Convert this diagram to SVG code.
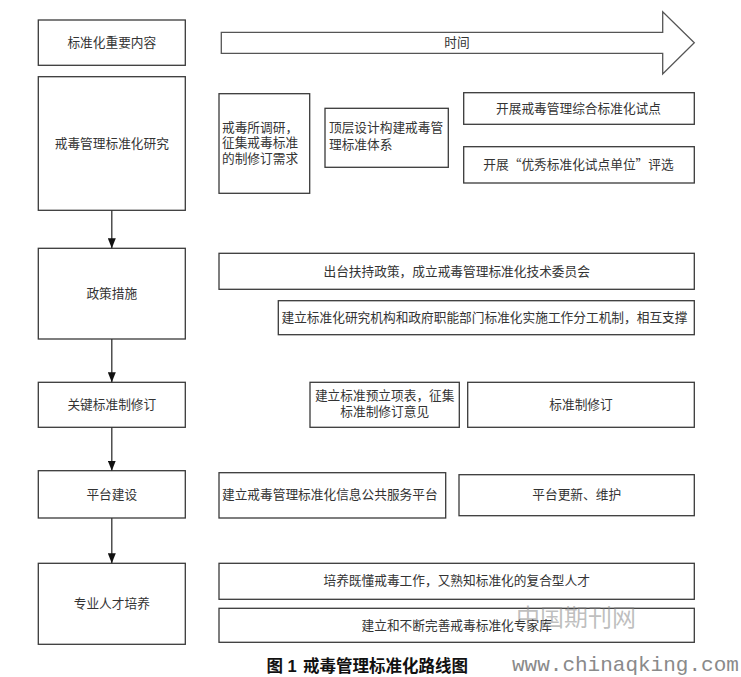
<svg xmlns="http://www.w3.org/2000/svg" width="741" height="677" viewBox="0 0 741 677">
<defs>
<style>
.box{fill:#fff;stroke:#3a3a3a;stroke-width:1.3}
.t{font-family:"Liberation Serif","Noto Sans CJK SC",serif;font-size:12.7px;fill:#333}
.c{text-anchor:middle}
.conn{stroke:#333;stroke-width:1.3;fill:none}
.cap{font-family:"Liberation Sans","Noto Sans CJK SC",sans-serif;font-size:16.5px;font-weight:bold;fill:#111}
</style>
<marker id="ah" markerWidth="10" markerHeight="8" refX="10" refY="4" orient="auto" markerUnits="userSpaceOnUse">
<path d="M0,0 L10,4 L0,8 Z" fill="#111"/>
</marker>
</defs>
<rect width="741" height="677" fill="#fff"/>

<g id="time-arrow">
<path d="M221.3,32.3 H662.7 V11.7 L694.3,42.7 L662.7,74 V53.3 H221.3 Z" fill="#fff" stroke="#555" stroke-width="1.3"/>
<text class="t c" x="457" y="47">时间</text>
</g>

<g id="n-header">
<rect class="box" x="38.3" y="20" width="147" height="45.3"/>
<text class="t c" x="111.8" y="47">标准化重要内容</text>
</g>
<g id="n-research">
<rect class="box" x="38.3" y="76.7" width="147" height="133.6"/>
<text class="t c" x="111.8" y="147.5">戒毒管理标准化研究</text>
</g>
<g id="n-policy">
<rect class="box" x="38.3" y="248.3" width="147" height="90.7"/>
<text class="t c" x="111.8" y="298">政策措施</text>
</g>
<g id="n-key">
<rect class="box" x="38.3" y="382.3" width="147" height="45"/>
<text class="t c" x="111.8" y="409">关键标准制修订</text>
</g>
<g id="n-platform">
<rect class="box" x="38.3" y="470.7" width="147" height="47.3"/>
<text class="t c" x="111.8" y="498.5">平台建设</text>
</g>
<g id="n-talent">
<rect class="box" x="38.3" y="563.3" width="147" height="81"/>
<text class="t c" x="111.8" y="608">专业人才培养</text>
</g>

<g id="connectors">
<line class="conn" x1="111.8" y1="210.3" x2="111.8" y2="248.3" marker-end="url(#ah)"/>
<line class="conn" x1="111.8" y1="339" x2="111.8" y2="382.3" marker-end="url(#ah)"/>
<line class="conn" x1="111.8" y1="427.3" x2="111.8" y2="470.7" marker-end="url(#ah)"/>
<line class="conn" x1="111.8" y1="518" x2="111.8" y2="563.3" marker-end="url(#ah)"/>
</g>

<g id="r1">
<rect class="box" x="219" y="93.7" width="90.7" height="99.6"/>
<text class="t" x="222" y="131.5">戒毒所调研，</text>
<text class="t" x="222" y="147">征集戒毒标准</text>
<text class="t" x="222" y="162.5">的制修订需求</text>
</g>
<g id="r2">
<rect class="box" x="325" y="108.3" width="123.3" height="59"/>
<text class="t" x="329" y="132">顶层设计构建戒毒管</text>
<text class="t" x="329" y="148.5">理标准体系</text>
</g>
<g id="r3">
<rect class="box" x="463.7" y="92.7" width="230.6" height="31.6"/>
<text class="t c" x="578.5" y="112.5">开展戒毒管理综合标准化试点</text>
</g>
<g id="r4">
<rect class="box" x="463.7" y="146.7" width="230.6" height="36.3"/>
<text class="t c" x="578.5" y="169" style="font-family:'Noto Sans CJK SC',sans-serif">开展“优秀标准化试点单位”评选</text>
</g>

<g id="p1">
<rect class="box" x="219" y="253.3" width="475.3" height="36"/>
<text class="t c" x="456.7" y="275.5">出台扶持政策，成立戒毒管理标准化技术委员会</text>
</g>
<g id="p2">
<rect class="box" x="278.3" y="300.7" width="416" height="34"/>
<text class="t" x="281.5" y="322">建立标准化研究机构和政府职能部门标准化实施工作分工机制，相互支撑</text>
</g>

<g id="k1">
<rect class="box" x="310" y="382.3" width="149.3" height="45"/>
<text class="t c" x="384.7" y="399.5">建立标准预立项表，征集</text>
<text class="t c" x="384.7" y="415.5">标准制修订意见</text>
</g>
<g id="k2">
<rect class="box" x="467.7" y="382.3" width="226.6" height="45"/>
<text class="t c" x="581" y="408.5">标准制修订</text>
</g>

<g id="pl1">
<rect class="box" x="219" y="472.7" width="226.7" height="45.3"/>
<text class="t" x="222" y="499">建立戒毒管理标准化信息公共服务平台</text>
</g>
<g id="pl2">
<rect class="box" x="459" y="474.7" width="235.3" height="41"/>
<text class="t c" x="576.7" y="499">平台更新、维护</text>
</g>

<g id="t1">
<rect class="box" x="219" y="563.3" width="475.3" height="36"/>
<text class="t c" x="456.7" y="585">培养既懂戒毒工作，又熟知标准化的复合型人才</text>
</g>
<g id="t2">
<rect class="box" x="219" y="608.3" width="475.3" height="34"/>
<text class="t c" x="456.7" y="629.5">建立和不断完善戒毒标准化专家库</text>
</g>

<g id="caption">
<text class="cap" x="266.5" y="672">图 1</text>
<text class="cap" x="303" y="672">戒毒管理标准化路线图</text>
</g>

<text x="576" y="626" text-anchor="middle" font-family="'Noto Sans CJK SC',sans-serif" font-size="24" fill="#888" fill-opacity="0.55">中国期刊网</text>
<text x="512" y="671" font-family="'Liberation Mono',monospace" font-size="21" fill="#8a8a8a">www.chinaqking.com</text>
</svg>
